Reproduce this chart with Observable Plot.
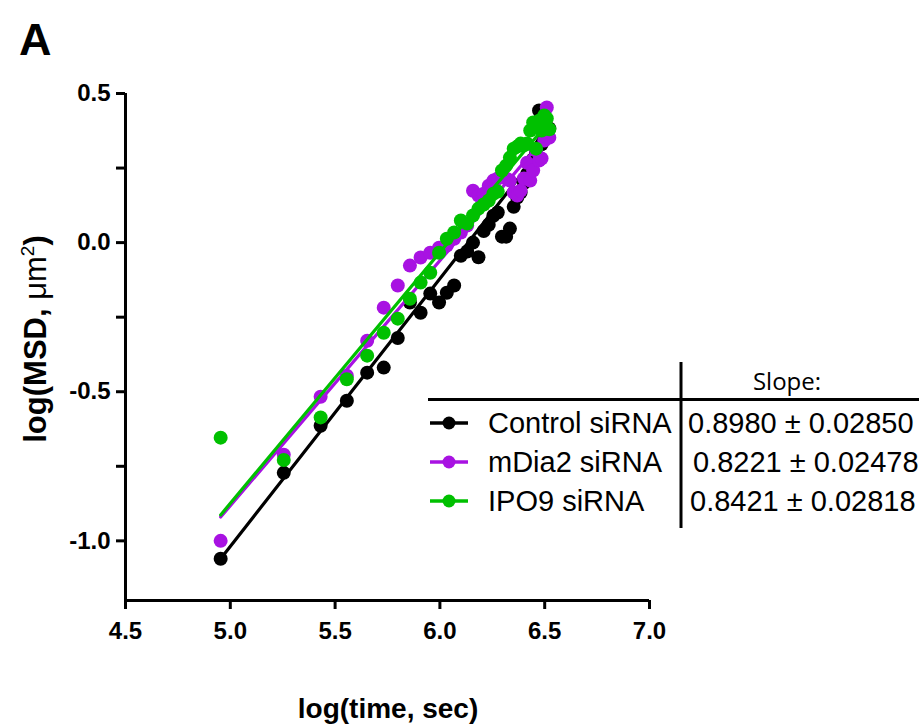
<!DOCTYPE html>
<html>
<head>
<meta charset="utf-8">
<script src="https://cdn.jsdelivr.net/npm/d3@7"></script>
<script src="https://cdn.jsdelivr.net/npm/@observablehq/plot@0.6"></script>
<style>
  html, body { margin: 0; padding: 0; background: #fff; }
  #chart { position: relative; width: 919px; height: 727px; overflow: hidden; }
</style>
</head>
<body>
<div id="chart"></div>
<script>
// ---------- data ----------
const xTicks = [4.5, 5.0, 5.5, 6.0, 6.5, 7.0];
const yTicks = [-1.0, -0.5, 0.0, 0.5];
const yMinorTicks = [-0.75, -0.25, 0.25];
const seriesNames = ["Control siRNA", "mDia2 siRNA", "IPO9 siRNA"];
const slopeTexts = ["0.8980 ± 0.02850", "0.8221 ± 0.02478", "0.8421 ± 0.02818"];
const seriesColors = ["#000000", "#a812e2", "#00c000"];

const logTime = [4.954, 5.255, 5.431, 5.556, 5.653, 5.732, 5.799, 5.857, 5.908, 5.954,
  5.996, 6.033, 6.068, 6.100, 6.130, 6.158, 6.184, 6.209, 6.233, 6.255,
  6.276, 6.296, 6.316, 6.334, 6.352, 6.369, 6.385, 6.401, 6.416, 6.431,
  6.445, 6.459, 6.473, 6.485, 6.498, 6.510, 6.522];

const controlMSD = [-1.060, -0.772, -0.614, -0.530, -0.436, -0.419, -0.320, -0.201, -0.235, -0.171,
  -0.201, -0.168, -0.144, -0.044, -0.030, 0.000, -0.049, 0.039, 0.060, 0.090,
  0.101, 0.020, 0.020, 0.047, 0.120, 0.151, 0.168, 0.200, 0.230, 0.255,
  0.280, 0.300, 0.443, 0.330, 0.350, 0.370, 0.383];

const mdia2MSD = [-1.000, -0.711, -0.517, -0.446, -0.329, -0.218, -0.144, -0.077, -0.050, -0.034,
  -0.017, -0.010, 0.013, 0.034, 0.057, 0.174, 0.158, 0.164, 0.191, 0.208,
  0.215, 0.225, 0.215, 0.208, 0.168, 0.158, 0.174, 0.215, 0.268, 0.208,
  0.242, 0.309, 0.275, 0.282, 0.342, 0.453, 0.352];

const ipo9MSD = [-0.654, -0.729, -0.586, -0.458, -0.379, -0.302, -0.255, -0.188, -0.134, -0.101,
  -0.034, 0.013, 0.034, 0.074, 0.064, 0.091, 0.114, 0.128, 0.141, 0.164,
  0.171, 0.242, 0.258, 0.285, 0.315, 0.322, 0.332, 0.326, 0.332, 0.376,
  0.403, 0.315, 0.409, 0.376, 0.426, 0.416, 0.380];

// fitted lines (endpoints)
const fitX = [4.954, 6.51];
const controlFit = [-1.060, 0.337];
const mdia2Fit = [-0.920, 0.359];
const ipo9Fit = [-0.913, 0.397];

// ---------- build tables ----------
const seriesValues = [controlMSD, mdia2MSD, ipo9MSD];
const fits = [controlFit, mdia2Fit, ipo9Fit];
const pts = seriesValues.map(vals => logTime.map((t, i) => ({x: t, y: vals[i]})));
const lines = fits.map(f => fitX.map((t, i) => ({x: t, y: f[i]})));

const W = 919, H = 727;
const FONT = "'Liberation Sans', Arial, Helvetica, sans-serif";

const marks = [];
seriesColors.forEach((c, i) => {
  marks.push(Plot.dot(pts[i], {x: "x", y: "y", r: 7, fill: c, stroke: "none"}));
  marks.push(Plot.line(lines[i], {x: "x", y: "y", stroke: c, strokeWidth: 3.2}));
});

const plot = Plot.plot({
  width: W,
  height: H,
  marginLeft: 125,
  marginRight: 270,
  marginTop: 93,
  marginBottom: 127,
  style: {fontFamily: FONT, background: "transparent", overflow: "visible"},
  x: {domain: [4.5, 7.0]},
  y: {domain: [-1.2, 0.5]},
  marks: [
    ...marks,
    Plot.ruleX([4.5], {y1: -1.2, y2: 0.5, strokeWidth: 3, stroke: "#000"}),
    Plot.ruleY([-1.2], {x1: 4.5, x2: 7.0, strokeWidth: 3, stroke: "#000"}),
    Plot.axisX({ticks: xTicks, tickFormat: d => d.toFixed(1), tickSize: 9, tickPadding: 12,
      strokeWidth: 3, fontSize: 24, fontWeight: "bold", label: null, stroke: "#000", fill: "#000"}),
    Plot.axisY({ticks: yTicks, tickFormat: d => d.toFixed(1), tickSize: 9, tickPadding: 6,
      strokeWidth: 3, fontSize: 24, fontWeight: "bold", label: null, stroke: "#000", fill: "#000"}),
    Plot.axisY({ticks: yMinorTicks, tickFormat: () => "", tickSize: 9,
      strokeWidth: 3, label: null, stroke: "#000"})
  ]
});
document.getElementById("chart").appendChild(plot);

const svg = d3.select(plot);
// bold, larger tick labels (force via inline style)
svg.selectAll("g[aria-label$='tick label']").style("font-size", "24px").style("font-weight", "bold");
svg.selectAll("g[aria-label$='tick label'] text").style("font-size", "24px").style("font-weight", "bold");

// ---------- annotations (panel letter, axis titles, legend table) ----------
svg.append("text").attr("x", 19).attr("y", 55).attr("text-anchor", "start")
  .attr("font-family", FONT).attr("font-weight", "bold").attr("font-size", 45)
  .attr("fill", "#000").text("A");

svg.append("text").attr("x", 388).attr("y", 718).attr("text-anchor", "middle")
  .attr("font-family", FONT).attr("font-weight", "bold").attr("font-size", 28)
  .attr("fill", "#000").text("log(time, sec)");

const yl = svg.append("text").attr("transform", "translate(46,339) rotate(-90)")
  .attr("text-anchor", "middle").attr("font-family", FONT).attr("font-size", 31).attr("fill", "#000");
yl.append("tspan").attr("font-weight", "bold").text("log(MSD, ");
yl.append("tspan").attr("font-weight", "normal").text("\u03BCm");
yl.append("tspan").attr("font-weight", "normal").attr("font-size", 19).attr("dy", -12).text("2");
yl.append("tspan").attr("font-weight", "bold").attr("dy", 12).text(")");

// legend table
const lg = svg.append("g").attr("text-anchor", "start");
lg.append("line").attr("x1", 428).attr("x2", 919).attr("y1", 399.5).attr("y2", 399.5)
  .attr("stroke", "#000").attr("stroke-width", 3);
lg.append("line").attr("x1", 681).attr("x2", 681).attr("y1", 362).attr("y2", 528)
  .attr("stroke", "#000").attr("stroke-width", 3);
lg.append("text").attr("x", 787).attr("y", 390).attr("text-anchor", "middle")
  .attr("font-family", "'Open Sans', 'Noto Sans', sans-serif").attr("font-size", 24)
  .attr("fill", "#000").text("Slope:");

const rowY = [423, 462, 501];
const valueX = [688, 693, 690];
seriesNames.forEach((name, i) => {
  const y = rowY[i];
  lg.append("line").attr("x1", 430).attr("x2", 468).attr("y1", y).attr("y2", y)
    .attr("stroke", seriesColors[i]).attr("stroke-width", 3.5);
  lg.append("circle").attr("cx", 449).attr("cy", y).attr("r", 6.5).attr("fill", seriesColors[i]);
  lg.append("text").attr("x", 488).attr("y", y + 10).attr("text-anchor", "start").attr("font-family", FONT)
    .attr("font-size", 29).attr("fill", "#000").text(name);
  lg.append("text").attr("x", valueX[i]).attr("y", y + 10).attr("text-anchor", "start").attr("font-family", FONT)
    .attr("font-size", 29).attr("fill", "#000").text(slopeTexts[i]);
});
</script>
</body>
</html>
